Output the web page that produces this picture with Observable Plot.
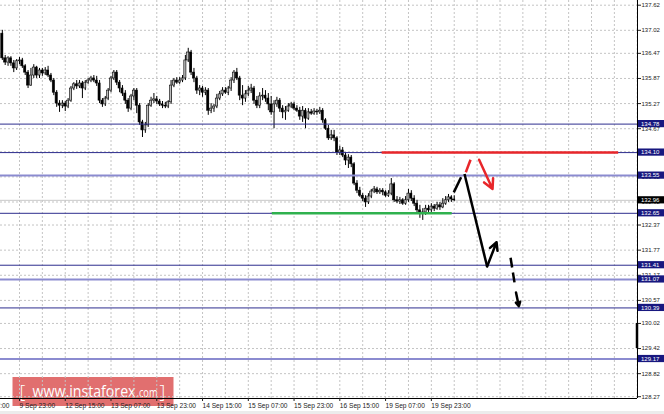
<!DOCTYPE html>
<html><head><meta charset="utf-8">
<script src="https://cdn.jsdelivr.net/npm/d3@7"></script>
<script src="https://cdn.jsdelivr.net/npm/@observablehq/plot@0.6"></script>
<style>
html,body{margin:0;padding:0;background:#fff;}
#chart{width:664px;height:411px;overflow:hidden;position:relative;}
#strip{width:664px;height:3px;background:#ececec;}
svg{display:block;}
</style></head><body>
<div id="chart"></div><div id="strip"></div>
<script>
// ---- data (hourly bars, bar 0 = 9 Sep 23:00) ----
const firstBar = -6;
const opens = [
136.94,136.35,136.25,136.35,136.23,136.11,136.28,136.30,136.16,136.01,
135.70,135.94,136.13,135.94,136.06,135.99,136.06,135.94,135.82,135.53,
135.27,135.22,135.27,135.20,135.34,135.63,135.73,135.68,135.75,135.63,
135.77,135.82,135.87,135.82,135.75,135.34,135.25,135.39,135.58,135.87,
136.01,135.77,135.63,135.51,135.34,135.15,135.44,135.58,135.22,134.82,
134.63,134.75,135.22,135.34,135.37,135.32,135.25,135.22,135.20,135.30,
135.70,135.82,135.77,135.82,135.87,136.30,136.49,136.01,135.87,135.58,
135.63,135.53,135.58,135.10,135.15,135.20,135.39,135.49,135.58,135.53,
135.63,135.82,136.01,135.87,135.46,135.39,135.49,135.58,135.63,135.34,
135.22,135.44,135.46,135.39,135.25,135.06,135.25,135.34,135.15,135.06,
135.10,135.20,135.25,135.15,135.10,134.96,135.10,134.91,135.06,135.03,
135.08,135.06,135.10,134.87,134.67,134.44,134.51,134.44,134.10,134.15,
134.03,133.91,133.98,133.82,133.36,133.19,133.07,133.00,132.91,133.05,
133.17,133.22,133.15,133.19,133.15,133.07,133.12,133.34,132.96,132.93,
132.96,132.88,132.96,133.12,133.00,132.88,132.72,132.64,132.67,132.76,
132.72,132.81,132.76,132.84,132.79,132.88,132.96,133.03,132.98];
const highs = [
137.02,136.42,136.39,136.39,136.30,136.32,136.37,136.35,136.20,136.06,
136.11,136.20,136.16,136.11,136.11,136.13,136.16,135.99,135.87,135.58,
135.34,135.34,135.32,135.39,135.68,135.77,135.82,135.82,135.80,135.82,
135.87,135.92,135.94,135.92,135.82,135.39,135.44,135.63,135.92,136.06,
136.06,135.82,135.70,135.58,135.39,135.49,135.63,135.63,135.27,134.87,
134.82,135.27,135.42,135.51,135.44,135.37,135.32,135.30,135.34,135.82,
135.87,135.89,135.89,135.94,136.42,136.59,136.54,136.11,135.92,135.70,
135.68,135.65,135.63,135.27,135.25,135.49,135.56,135.65,135.65,135.68,
135.89,136.06,136.11,135.92,135.70,135.58,135.68,135.73,135.68,135.44,
135.53,135.63,135.58,135.51,135.44,135.34,135.42,135.39,135.22,135.20,
135.27,135.30,135.30,135.22,135.18,135.20,135.15,135.15,135.13,135.15,
135.13,135.18,135.15,134.91,134.75,134.63,134.63,134.48,134.25,134.22,
134.10,134.05,134.03,133.86,133.43,133.27,133.12,133.07,133.12,133.22,
133.29,133.27,133.24,133.24,133.19,133.19,133.48,133.38,133.05,133.03,
133.00,133.05,133.22,133.19,133.07,132.96,132.84,132.76,132.84,132.84,
132.88,132.86,132.91,132.91,133.00,133.05,133.10,133.07,133.07];
const lows = [
136.30,136.18,136.16,136.16,136.01,136.06,136.20,136.11,135.94,135.63,
135.68,135.87,135.87,135.87,135.92,135.94,135.89,135.77,135.46,135.18,
135.06,135.15,135.08,135.15,135.30,135.58,135.61,135.63,135.39,135.58,
135.73,135.77,135.77,135.68,135.27,135.18,135.20,135.34,135.53,135.82,
135.70,135.53,135.44,135.25,135.06,135.10,135.34,135.03,134.75,134.46,
134.56,134.70,135.18,135.27,135.25,135.20,135.15,135.15,135.15,135.25,
135.65,135.73,135.73,135.77,135.82,136.25,135.94,135.77,135.49,135.46,
135.42,135.46,134.99,135.03,135.06,135.15,135.34,135.44,135.49,135.46,
135.56,135.75,135.82,135.34,135.22,135.30,135.44,135.51,135.25,135.15,
135.15,135.34,135.30,135.10,134.99,134.67,135.18,135.06,134.91,134.87,
135.06,135.15,135.10,135.06,134.87,134.82,134.67,134.87,134.99,134.99,
134.99,135.01,134.80,134.63,134.39,134.39,134.36,134.03,134.03,133.98,
133.79,133.72,133.74,133.31,133.12,133.03,132.93,132.79,132.86,133.00,
133.12,133.10,133.10,133.07,133.03,133.03,133.07,132.91,132.88,132.86,
132.84,132.84,132.91,132.93,132.81,132.64,132.53,132.48,132.60,132.67,
132.67,132.69,132.72,132.72,132.76,132.84,132.91,132.91,132.93];
const closes = [
136.35,136.25,136.35,136.23,136.11,136.28,136.30,136.16,136.01,135.70,
135.94,136.13,135.94,136.06,135.99,136.06,135.94,135.82,135.53,135.27,
135.22,135.27,135.20,135.34,135.63,135.73,135.68,135.75,135.63,135.77,
135.82,135.87,135.82,135.75,135.34,135.25,135.39,135.58,135.87,136.01,
135.77,135.63,135.51,135.34,135.15,135.44,135.58,135.22,134.82,134.63,
134.75,135.22,135.34,135.37,135.32,135.25,135.22,135.20,135.30,135.70,
135.82,135.77,135.82,135.87,136.30,136.49,136.01,135.87,135.58,135.63,
135.53,135.58,135.10,135.15,135.20,135.39,135.49,135.58,135.53,135.63,
135.82,136.01,135.87,135.46,135.39,135.49,135.58,135.63,135.34,135.22,
135.44,135.46,135.39,135.25,135.06,135.25,135.34,135.15,135.06,135.10,
135.20,135.25,135.15,135.10,134.96,135.10,134.91,135.06,135.03,135.08,
135.06,135.10,134.87,134.67,134.44,134.51,134.44,134.10,134.15,134.03,
133.91,133.98,133.82,133.36,133.19,133.07,133.00,132.91,133.05,133.17,
133.22,133.15,133.19,133.15,133.07,133.12,133.34,132.96,132.93,132.96,
132.88,132.96,133.12,133.00,132.88,132.72,132.64,132.67,132.76,132.72,
132.81,132.76,132.84,132.79,132.88,132.96,133.03,132.98,132.96];

const timeLabels = ["9 Sep 07:00","9 Sep 23:00","12 Sep 15:00","13 Sep 07:00","13 Sep 23:00",
  "14 Sep 15:00","15 Sep 07:00","15 Sep 23:00","16 Sep 15:00","19 Sep 07:00","19 Sep 23:00"];
const timeLabelBars = [-16,0,16,32,48,64,80,96,112,128,144];
const gridBars = [-8,0,8,16,24,32,40,48,56,64,72,80,88,96,104,112,120,128,136,144,152,160,168,176,184,192,200,208,216];
const priceTicks = [137.62,137.02,136.47,135.87,135.27,134.67,134.12,133.52,132.92,132.37,
  131.77,131.17,130.57,130.02,129.42,128.82,128.27];
const darkLevels = [134.78,134.10,132.65,131.41,130.39];
const lightLevels = [133.55,131.07,129.17];
const currentPrice = 132.96;
const resistancePrice = 134.10, resistanceBars = [126.8, 209.5];
const supportPrice = 132.65, supportBars = [88.4, 151.3];
// forecast path (bar, price)
const blackDash = [{x1:151.85,y1:133.15,x2:154.4,y2:133.51}];
const redDash = [{x1:156.05,y1:133.63,x2:157.7,y2:133.93}];
const redArrow = [{x1:160.7,y1:133.93,x2:165.4,y2:133.23}];
const blackDrop = [{x1:155.6,y1:133.59,x2:163.5,y2:131.38}];
const blackBounce = [{x1:163.5,y1:131.38,x2:166.8,y2:131.96}];
const blackDashedDown = [{x1:171.7,y1:131.59,x2:173.3,y2:130.90}];
const blackDashedHead = [{x1:173.6,y1:130.76,x2:174.6,y2:130.43}];

const xDomain = [-6.64, 216.08];
const yDomain = [128.227, 137.732];

const candles = opens.map((o,k)=>({i:k+firstBar, open:o, high:highs[k], low:lows[k], close:closes[k]}));
const labelMap = new Map(timeLabelBars.map((b,k)=>[b,timeLabels[k]]));

const grid = {stroke:"#c4c4c4", strokeDasharray:"2,2", strokeWidth:1};

const chart = Plot.plot({
  width:664, height:411, marginLeft:0, marginRight:27, marginTop:0, marginBottom:13,
  x:{domain:xDomain}, y:{domain:yDomain},
  style:{background:"transparent", fontFamily:"'Liberation Sans', Arial, sans-serif", color:"#222"},
  marks:[
    Plot.ruleX(gridBars, grid),
    Plot.ruleY(priceTicks, grid),
    Plot.ruleY([currentPrice], {stroke:"#c8c8c8", strokeWidth:1}),
    Plot.ruleX(candles, {x:"i", y1:"low", y2:"high", stroke:"#000", strokeWidth:1}),
    Plot.rect(candles, {x1:d=>d.i-0.37, x2:d=>d.i+0.37, y1:"open", y2:"close",
      fill:d=>d.close>=d.open?"#bdbdbd":"#000", stroke:"#000", strokeWidth:0.6}),
    Plot.ruleY(darkLevels, {stroke:"#2d2d8e", strokeWidth:1}),
    Plot.ruleY(lightLevels, {stroke:"#8b8bd0", strokeWidth:2}),
    Plot.ruleY([resistancePrice], {x1:resistanceBars[0], x2:resistanceBars[1], stroke:"#e8262a", strokeWidth:2.5}),
    Plot.ruleY([supportPrice], {x1:supportBars[0], x2:supportBars[1], stroke:"#2fb14e", strokeWidth:2.5}),
    Plot.link(blackDash, {x1:"x1",y1:"y1",x2:"x2",y2:"y2", stroke:"#000", strokeWidth:2.5}),
    Plot.link(redDash, {x1:"x1",y1:"y1",x2:"x2",y2:"y2", stroke:"#e8262a", strokeWidth:2.5}),
    Plot.arrow(redArrow, {x1:"x1",y1:"y1",x2:"x2",y2:"y2", stroke:"#e8262a", strokeWidth:2.5, headLength:9, headAngle:55}),
    Plot.link(blackDrop, {x1:"x1",y1:"y1",x2:"x2",y2:"y2", stroke:"#000", strokeWidth:2.5}),
    Plot.arrow(blackBounce, {x1:"x1",y1:"y1",x2:"x2",y2:"y2", stroke:"#000", strokeWidth:2.5, headLength:9, headAngle:55}),
    Plot.link(blackDashedDown, {x1:"x1",y1:"y1",x2:"x2",y2:"y2", stroke:"#000", strokeWidth:2.5, strokeDasharray:"10,5"}),
    Plot.arrow(blackDashedHead, {x1:"x1",y1:"y1",x2:"x2",y2:"y2", stroke:"#000", strokeWidth:2.5, headLength:9, headAngle:55}),
    Plot.ruleX([xDomain[1]], {stroke:"#000", strokeWidth:1}),
    Plot.ruleY([yDomain[0]], {stroke:"#000", strokeWidth:1}),
    Plot.ruleX([xDomain[1]], {y1:130.02, y2:129.42, stroke:"#000", strokeWidth:2.5, dx:-0.5}),
    Plot.axisY(priceTicks, {anchor:"right", tickSize:3, tickPadding:1, fontSize:6, tickFormat:d=>d.toFixed(2), fill:"#222"}),
    Plot.axisX(timeLabelBars, {anchor:"bottom", tickSize:3, tickPadding:1.5, fontSize:6.6, textAnchor:"start",
      tickFormat:d=>labelMap.get(d), fill:"#222"})
  ]
});
document.getElementById("chart").appendChild(chart);

const svg = d3.select(chart);
const yS = chart.scale("y");
// price label boxes
const boxes = svg.append("g").attr("font-family","'Liberation Sans', Arial, sans-serif").attr("font-size",6).attr("text-anchor","start");
function box(v, color){
  const y = yS.apply(v);
  boxes.append("rect").attr("x",638).attr("y",y-3.6).attr("width",26).attr("height",7.2).attr("fill",color);
  boxes.append("text").attr("x",641).attr("y",y).attr("dy","0.36em").attr("fill","#fff").text(v.toFixed(2));
}
[...darkLevels, ...lightLevels].forEach(v=>box(v,"#17177f"));
box(currentPrice,"#000");

// watermark behind everything
const wm = svg.insert("g", ":first-child").attr("text-anchor","start");
wm.append("rect").attr("x",12.5).attr("y",377).attr("width",161).attr("height",29).attr("fill","#dd5b5b").attr("opacity",0.88);
const t = wm.append("g").attr("fill","#fff").attr("font-family","'Open Sans', sans-serif");
t.append("text").attr("x",19.5).attr("y",398).attr("font-size",18).attr("font-weight",300).text("[");
t.append("text").attr("x",32.5).attr("y",396.5).attr("font-size",17).attr("textLength",103).attr("lengthAdjust","spacingAndGlyphs").text("www.instaforex");
t.append("text").attr("x",136.5).attr("y",396.5).attr("font-size",12.5).attr("textLength",21).attr("lengthAdjust","spacingAndGlyphs").text(".com");
t.append("text").attr("x",159.5).attr("y",398).attr("font-size",18).attr("font-weight",300).text("]");
</script>
</body></html>
